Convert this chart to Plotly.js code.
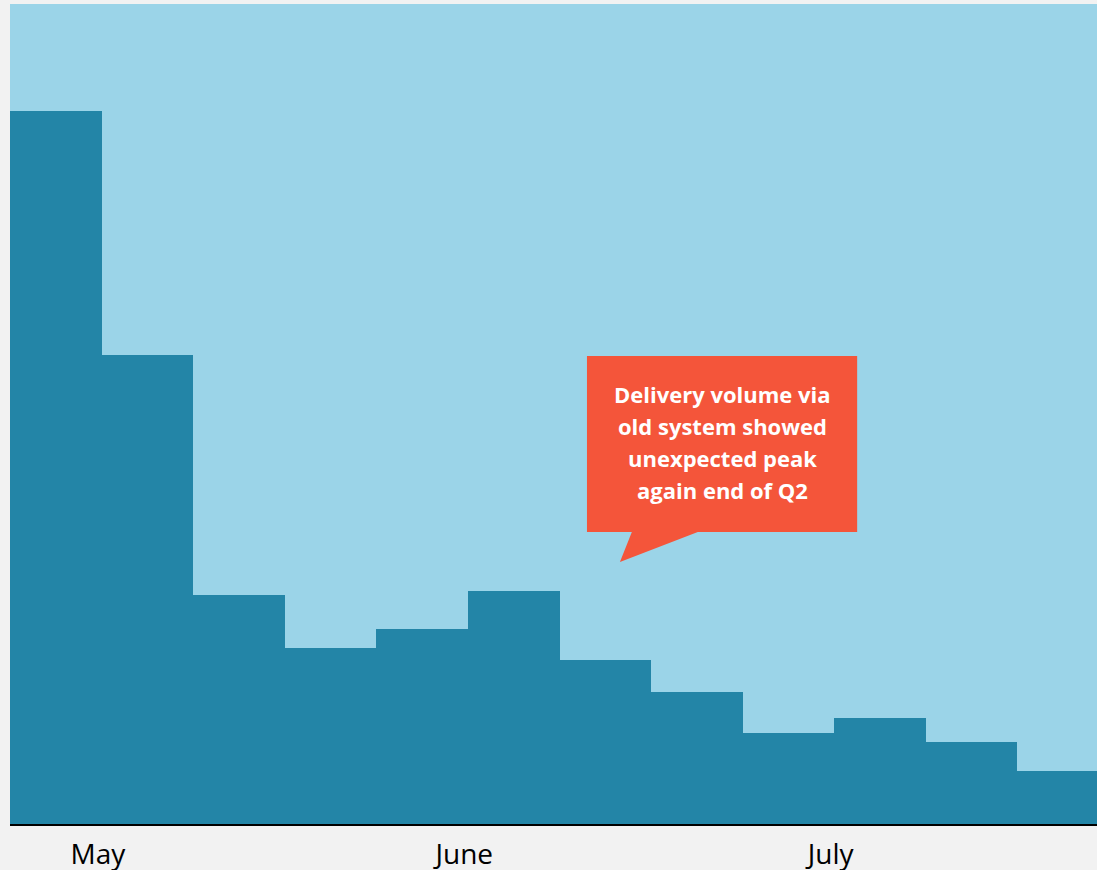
<!DOCTYPE html>
<html>
<head>
<meta charset="utf-8">
<script src="https://cdn.plot.ly/plotly-3.0.1.min.js"></script>
<style>
html,body{margin:0;padding:0;background:#f2f2f2;overflow:hidden;}
#chart{width:1109px;height:870px;}
</style>
</head>
<body>
<div id="chart"></div>
<script>
// Weekly delivery volume via old system (share, %), May–July
const weeks = [0,1,2,3,4,5,6,7,8,9,10,11];
const oldSystem = [86.9, 57.2, 27.9, 21.5, 23.8, 28.4, 20.0, 16.1, 11.1, 12.9, 10.0, 6.5];
const monthTickPos = [0.46, 4.46, 8.46];
const monthLabels = ['May', 'June', 'July'];
const calloutLines = ['Delivery volume via', 'old system showed', 'unexpected peak', 'again end of Q2'];

const trace = {
  type: 'bar',
  x: weeks,
  y: oldSystem,
  marker: {color: '#2385a7', line: {width: 0}},
  hoverinfo: 'skip'
};

// callout bubble in data coordinates
const bx0 = 5.80, bx1 = 8.75, byTop = 57.07, byBot = 35.61;
const path = `M ${bx0},${byTop} L ${bx1},${byTop} L ${bx1},${byBot} L 7.01,${byBot} L 6.16,31.95 L 6.29,${byBot} L ${bx0},${byBot} Z`;

const lineTop = 52.5, lineStep = 3.93;
const annotations = calloutLines.map((t, i) => ({
  xref: 'x', yref: 'y',
  x: (bx0 + bx1) / 2,
  y: lineTop - i * lineStep,
  text: t,
  showarrow: false,
  align: 'center',
  font: {family: 'Open Sans, sans-serif', size: 22, color: '#ffffff', weight: 'bold'}
}));

const layout = {
  width: 1109,
  height: 870,
  margin: {l: 10, r: 0, t: 4, b: 46},
  paper_bgcolor: '#f2f2f2',
  plot_bgcolor: '#9bd4e8',
  bargap: 0,
  showlegend: false,
  xaxis: {
    range: [-0.5, 11.5],
    tickvals: monthTickPos,
    ticktext: monthLabels,
    ticks: '',
    ticklabelstandoff: 4,
    showgrid: false,
    zeroline: false,
    showline: true,
    linecolor: '#000000',
    linewidth: 2,
    tickfont: {family: 'Open Sans, sans-serif', size: 28, color: '#000000'},
    fixedrange: true
  },
  yaxis: {
    range: [0, 100],
    visible: false,
    showgrid: false,
    zeroline: false,
    fixedrange: true
  },
  shapes: [{
    type: 'path',
    xref: 'x', yref: 'y',
    path: path,
    fillcolor: '#f4553a',
    line: {width: 0},
    layer: 'above'
  }],
  annotations: annotations
};

Plotly.newPlot('chart', [trace], layout, {displayModeBar: false, staticPlot: true});
</script>
</body>
</html>
